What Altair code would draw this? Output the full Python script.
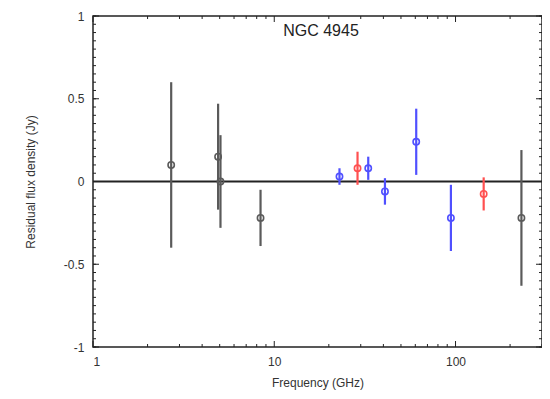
import altair as alt
import pandas as pd

# ---- data ----
freq = [2.7, 4.9, 5.05, 8.4, 22.9, 28.8, 33.0, 40.8, 60.7, 94.3, 143.0, 231.0]
resid = [0.10, 0.15, 0.00, -0.22, 0.03, 0.08, 0.08, -0.06, 0.24, -0.22, -0.075, -0.22]
err = [0.50, 0.32, 0.28, 0.17, 0.05, 0.10, 0.07, 0.08, 0.20, 0.20, 0.10, 0.41]
group = ["black", "black", "black", "black", "blue", "red", "blue", "blue", "blue", "blue", "red", "black"]

x_major = [1, 10, 100]
x_minor = [2, 3, 4, 5, 6, 7, 8, 9, 20, 30, 40, 50, 60, 70, 80, 90, 200, 300]
y_major = [-1, -0.5, 0, 0.5, 1]
y_minor = [round(-1 + 0.05 * i, 2) for i in range(41)]

W, H = 449, 331
FONT = "Liberation Sans"

df = pd.DataFrame({"freq": freq, "resid": resid, "err": err, "group": group})
df["lo"] = df["resid"] - df["err"]
df["hi"] = df["resid"] + df["err"]

xs = alt.Scale(type="log", domain=[1, 300], nice=False)
ys = alt.Scale(domain=[-1, 1], nice=False, zero=False)

bar_colors = alt.Scale(domain=["black", "blue", "red"], range=["#5a5a5a", "#5050ff", "#ff5050"])
pt_colors = alt.Scale(domain=["black", "blue", "red"], range=["#3c3c3c", "#3a3aff", "#ff3a3a"])

xaxis = alt.Axis(values=x_major, labelExpr="toString(datum.value)", ticks=False, domain=False, grid=False,
                 labelFont=FONT, labelFontSize=12, labelColor="#333", labelPadding=9,
                 title="Frequency (GHz)", titleFont=FONT, titleFontSize=12, titleFontWeight="normal",
                 titleColor="#333", titlePadding=10)
yaxis = alt.Axis(values=y_major, labelExpr="toString(datum.value)", ticks=False, domain=False, grid=False,
                 labelFont=FONT, labelFontSize=12, labelColor="#333", labelPadding=9,
                 title="Residual flux density (Jy)", titleFont=FONT, titleFontSize=12, titleFontWeight="normal",
                 titleColor="#333", titlePadding=26)

base = alt.Chart(df)

bars = base.mark_rule(strokeWidth=2.2).encode(
    x=alt.X("freq:Q", scale=xs, axis=xaxis),
    y=alt.Y("lo:Q", scale=ys, axis=yaxis),
    y2="hi:Q",
    color=alt.Color("group:N", scale=bar_colors, legend=None),
)

pts = base.mark_point(shape="circle", filled=False, size=40, strokeWidth=1.6, opacity=1).encode(
    x=alt.X("freq:Q", scale=xs),
    y=alt.Y("resid:Q", scale=ys),
    color=alt.Color("group:N", scale=pt_colors, legend=None),
)

zero = alt.Chart(pd.DataFrame({"y": [0]})).mark_rule(color="#222", strokeWidth=1.8).encode(
    y=alt.Y("y:Q", scale=ys)
)

# inward ticks on all four sides
ymaj = alt.Chart(pd.DataFrame({"v": y_major}))
ymin = alt.Chart(pd.DataFrame({"v": y_minor}))
xmaj = alt.Chart(pd.DataFrame({"v": x_major}))
xmin = alt.Chart(pd.DataFrame({"v": x_minor}))
tick_style = dict(color="#222", strokeWidth=1)

ticks = [
    ymin.mark_rule(**tick_style).encode(y=alt.Y("v:Q", scale=ys), x=alt.value(0), x2=alt.value(3)),
    ymin.mark_rule(**tick_style).encode(y=alt.Y("v:Q", scale=ys), x=alt.value(W), x2=alt.value(W - 3)),
    ymaj.mark_rule(**tick_style).encode(y=alt.Y("v:Q", scale=ys), x=alt.value(0), x2=alt.value(6)),
    ymaj.mark_rule(**tick_style).encode(y=alt.Y("v:Q", scale=ys), x=alt.value(W), x2=alt.value(W - 6)),
    xmin.mark_rule(**tick_style).encode(x=alt.X("v:Q", scale=xs), y=alt.value(H), y2=alt.value(H - 3)),
    xmin.mark_rule(**tick_style).encode(x=alt.X("v:Q", scale=xs), y=alt.value(0), y2=alt.value(3)),
    xmaj.mark_rule(**tick_style).encode(x=alt.X("v:Q", scale=xs), y=alt.value(H), y2=alt.value(H - 6)),
    xmaj.mark_rule(**tick_style).encode(x=alt.X("v:Q", scale=xs), y=alt.value(0), y2=alt.value(6)),
]

title = alt.Chart(pd.DataFrame({"t": ["NGC 4945"]})).mark_text(
    font=FONT, fontSize=16, color="#222", baseline="middle", align="center"
).encode(text="t:N", x=alt.value(228), y=alt.value(15))

chart = alt.layer(zero, bars, pts, *ticks, title).properties(
    width=W, height=H,
    background="white",
    autosize=alt.AutoSizeParams(type="none"),
    padding={"left": 85, "top": 8, "right": 0, "bottom": 44},
).configure_view(stroke="#222", strokeWidth=1.5)

chart.save("out.html", embed_options={"renderer": "svg", "actions": False})
